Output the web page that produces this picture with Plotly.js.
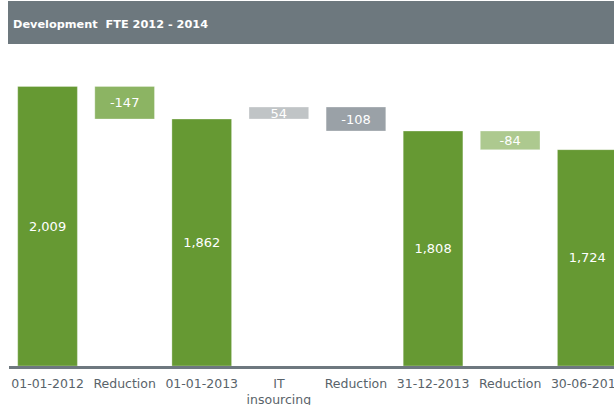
<!DOCTYPE html>
<html>
<head>
<meta charset="utf-8">
<script src="https://cdn.plot.ly/plotly-3.0.1.min.js"></script>
<style>
html,body{margin:0;padding:0;background:#fff;overflow:hidden;}
#chart{width:614px;height:405px;}
</style>
</head>
<body>
<div id="chart"></div>
<script>
// Data
const categories = ['01-01-2012', 'Reduction', '01-01-2013', 'IT<br>insourcing', 'Reduction', '31-12-2013', 'Reduction', '30-06-2014'];
const values = [2009, -147, 1862, 54, -108, 1808, -84, 1724];
const measures = ['total', 'relative', 'total', 'relative', 'relative', 'total', 'relative', 'total'];
const barColors = ['#669933', '#8cb463', '#669933', '#c0c4c6', '#9aa1a7', '#669933', '#adc98f', '#669933'];
const titleText = 'Development  FTE 2012 - 2014';
const axisMin = 750;

// Build a waterfall from plain bars (totals rise from the axis floor)
let running = 0;
const bases = [];
const heights = [];
values.forEach((v, i) => {
  if (measures[i] === 'total') {
    bases.push(axisMin);
    heights.push(v - axisMin);
    running = v;
  } else {
    bases.push(running);
    heights.push(v);
    running += v;
  }
});
const labels = values.map(v => v.toLocaleString('en-US'));

const W = 614, H = 405;
const mL = 9, mR = 0, mT = 50, mB = 39;
const plotW = W - mL - mR, plotH = H - mT - mB;
const px2x = px => (px - mL) / plotW;
const px2y = py => (H - mB - py) / plotH;

const trace = {
  type: 'bar',
  x: categories.map((c, i) => i),
  y: heights,
  base: bases,
  marker: {color: barColors, line: {color: 'rgba(255,255,255,0.3)', width: 1}},
  width: 0.774,
  text: labels,
  textposition: 'inside',
  insidetextanchor: 'middle',
  textangle: 0,
  textfont: {family: 'DejaVu Sans, Verdana, sans-serif', size: 13, color: '#ffffff'},
  constraintext: 'none',
  hoverinfo: 'skip',
  cliponaxis: true
};

const layout = {
  width: W, height: H,
  margin: {l: mL, r: mR, t: mT, b: mB, pad: 0},
  paper_bgcolor: '#ffffff',
  plot_bgcolor: '#ffffff',
  showlegend: false,
  xaxis: {
    range: [-0.5, -0.5 + plotW / 77.1],
    tickmode: 'array',
    tickvals: categories.map((c, i) => i),
    ticktext: categories,
    showgrid: false, zeroline: false,
    showline: true, linecolor: '#6e787f', linewidth: 3,
    ticks: '',
    ticklabelstandoff: 4,
    ticklabeloverflow: 'allow',
    tickfont: {family: 'DejaVu Sans, Verdana, sans-serif', size: 12.5, color: '#59636a'},
    fixedrange: true
  },
  yaxis: {
    range: [axisMin, axisMin + plotH / 0.2221],
    showgrid: false, zeroline: false, showline: false,
    showticklabels: false, ticks: '',
    fixedrange: true
  },
  shapes: [{
    type: 'rect', xref: 'paper', yref: 'paper',
    x0: px2x(8), x1: px2x(614), y0: px2y(44), y1: px2y(1),
    fillcolor: '#6d787e', line: {width: 0}, layer: 'above'
  }],
  annotations: [{
    xref: 'paper', yref: 'paper',
    x: px2x(11), y: px2y(24.5), xanchor: 'left', yanchor: 'middle',
    text: '<b>' + titleText + '</b>', showarrow: false,
    font: {family: 'DejaVu Sans, Verdana, sans-serif', size: 11.3, color: '#ffffff'}
  }]
};

Plotly.newPlot('chart', [trace], layout, {displayModeBar: false, staticPlot: true});
</script>
</body>
</html>
